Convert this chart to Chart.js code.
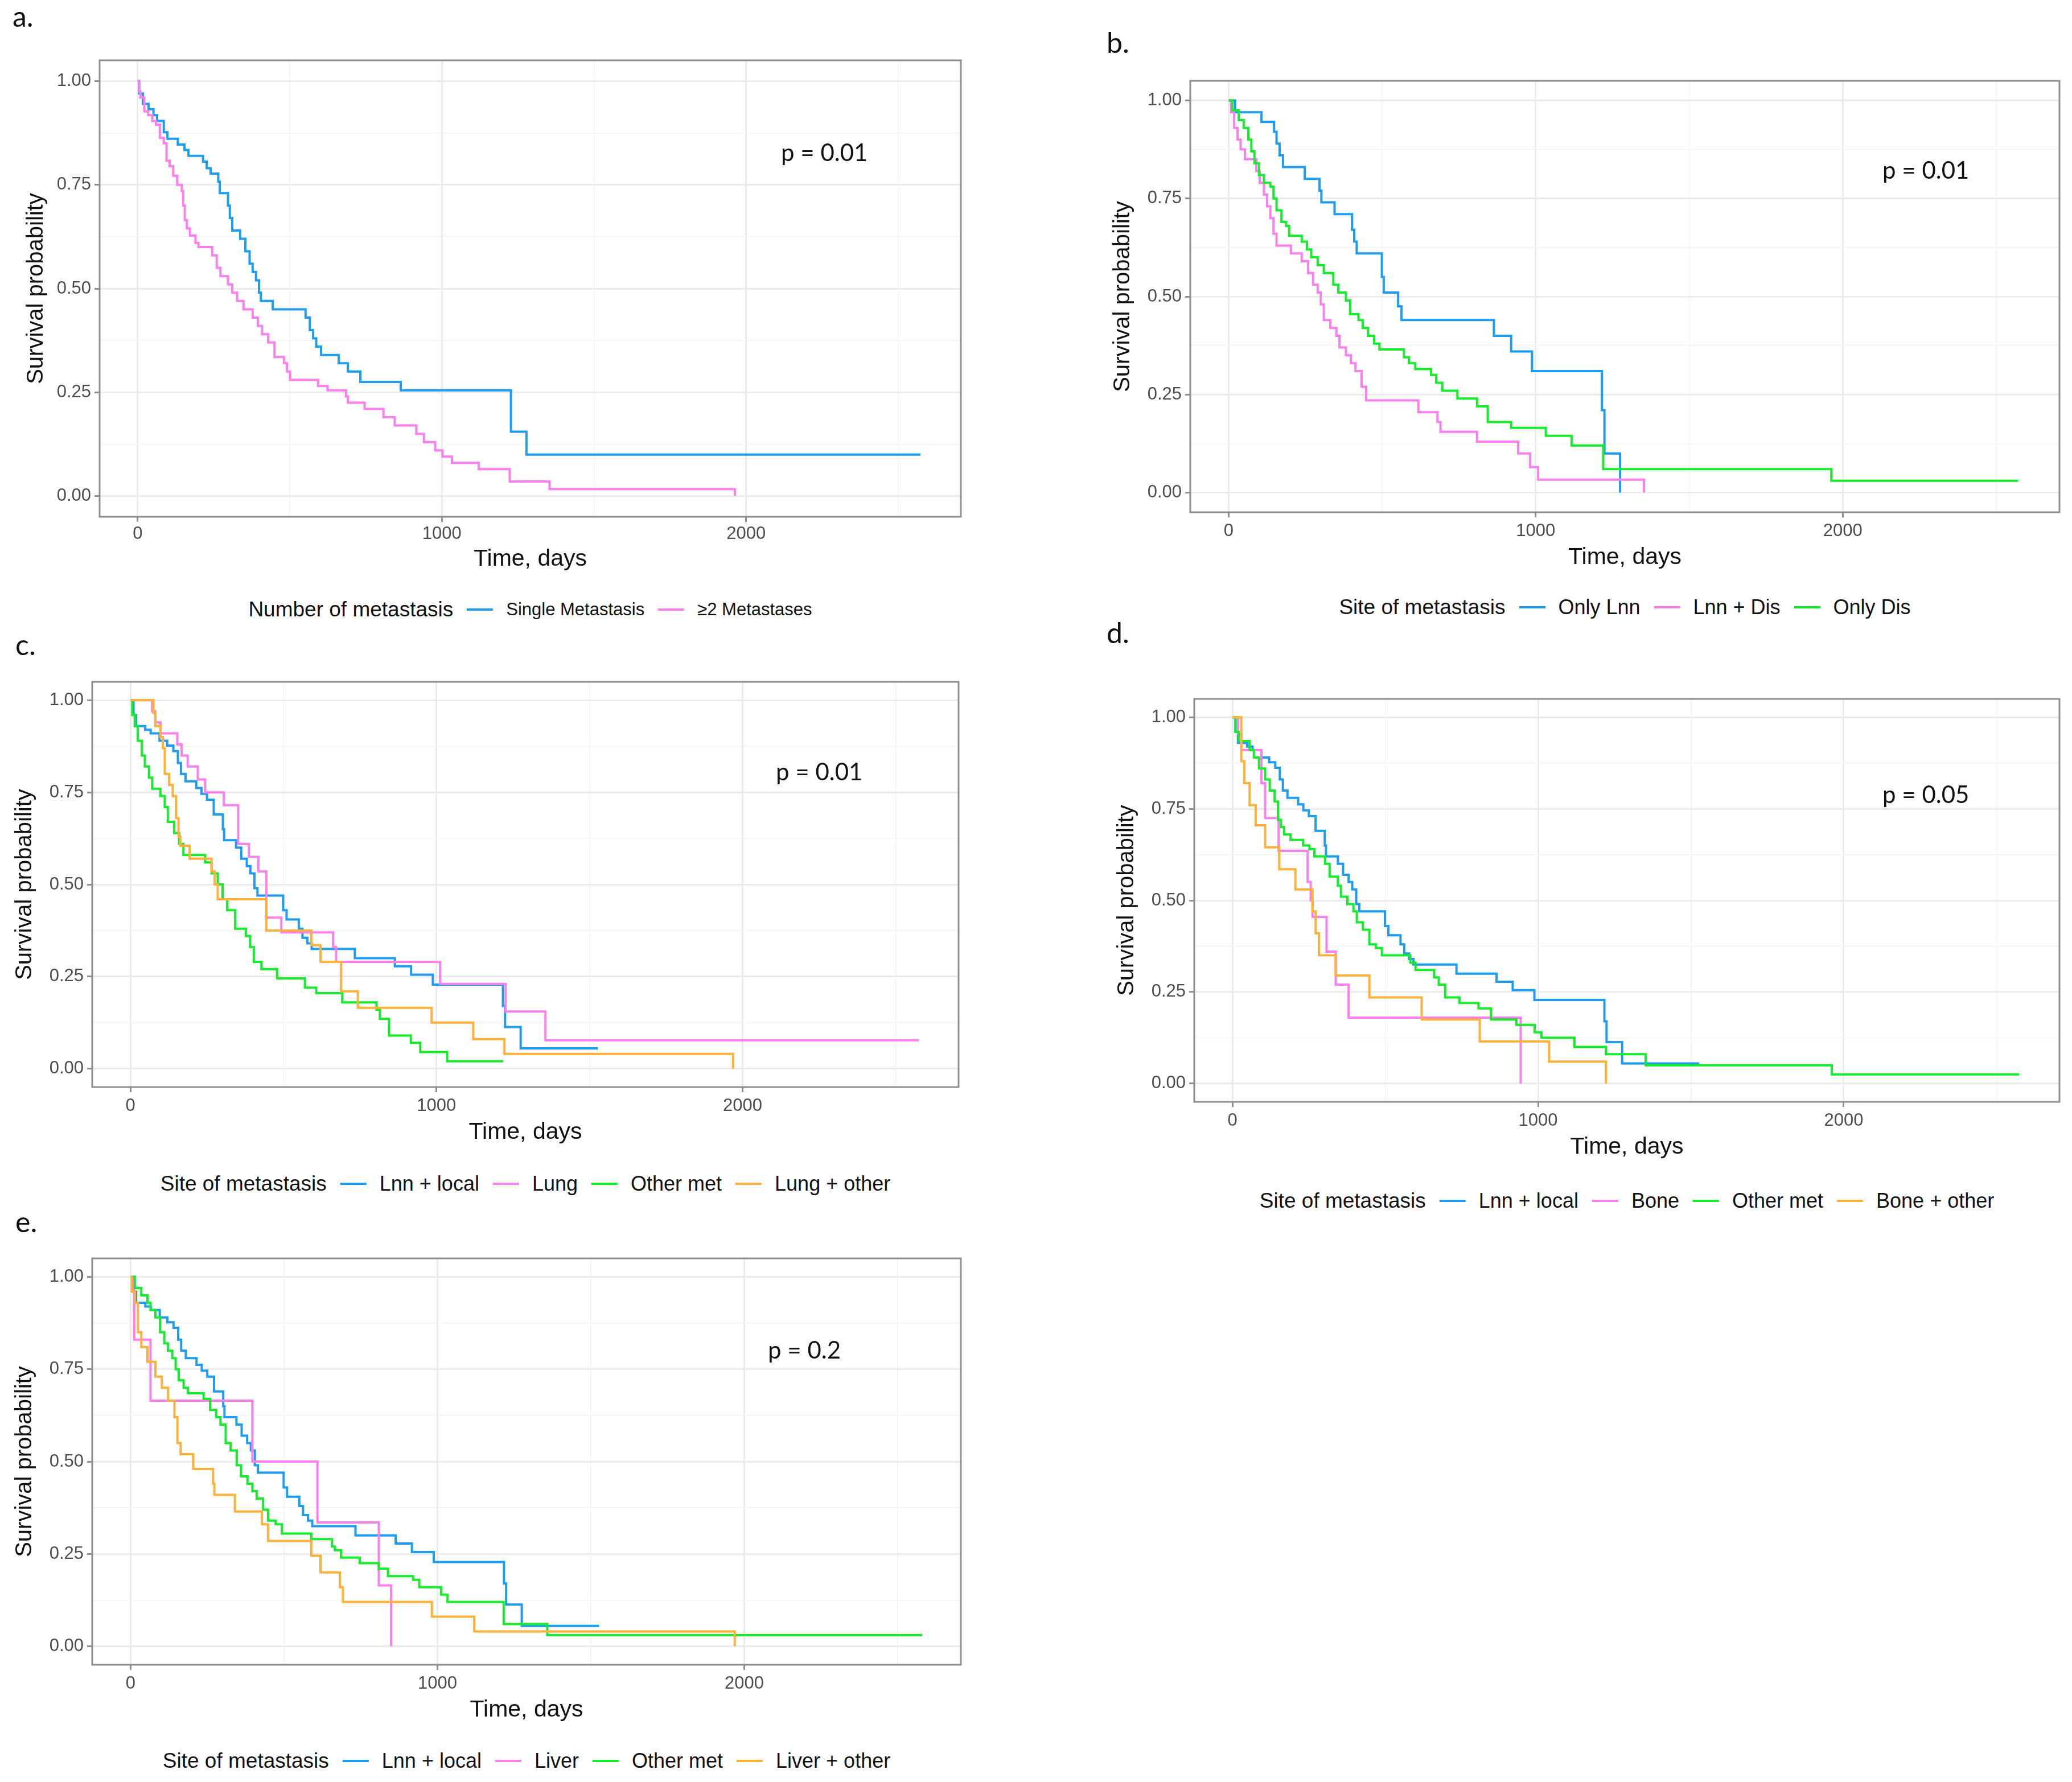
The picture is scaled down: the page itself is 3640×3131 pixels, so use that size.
<!DOCTYPE html>
<html>
<head>
<meta charset="utf-8">
<script src="https://cdn.jsdelivr.net/npm/chart.js@4.4.1/dist/chart.umd.min.js"></script>
<style>
  body { margin: 0; background: #fff; width: 3640px; height: 3131px; position: relative; overflow: hidden; }
  canvas { position: absolute; }
  .tag { position: absolute; font-family: Lato, 'Open Sans', sans-serif; font-size: 50px; line-height: 50px; color: #111; }
  .pval { position: absolute; font-family: Lato, 'Open Sans', sans-serif; font-size: 42px; line-height: 1; color: #111; transform: translateY(-50%); white-space: nowrap; }
  .legend { position: absolute; display: flex; align-items: center; white-space: nowrap; transform: translate(-50%, -50%);
            font-family: 'Liberation Sans', Arial, sans-serif; color: #111; }
  .legend .sw { display: inline-block; width: 46px; height: 4px; margin: 0 23px 0 24px; }
</style>
</head>
<body>
<script>
// axis ticks (major get labels, minor only grid lines)
const xTicks = [0, 500, 1000, 1500, 2000, 2500];
const yTicks = [0, 0.125, 0.25, 0.375, 0.5, 0.625, 0.75, 0.875, 1];
const xLabels = [0, 1000, 2000];
const yLabels = [0, 0.25, 0.5, 0.75, 1];

// Kaplan-Meier steps: [day, survival after the event]
const aSingle = [[0,1],[5,0.97],[17,0.945],[36,0.932],[52,0.918],[64,0.904],[86,0.877],[98,0.861],[132,0.847],[154,0.834],[167,0.82],[215,0.806],[227,0.79],[240,0.777],[265,0.758],[270,0.73],[297,0.70],[303,0.67],[311,0.64],[337,0.62],[354,0.59],[368,0.56],[378,0.54],[389,0.52],[399,0.49],[405,0.47],[444,0.45],[552,0.43],[566,0.40],[577,0.38],[587,0.36],[603,0.34],[661,0.32],[691,0.30],[732,0.275],[865,0.255],[1227,0.155],[1278,0.10],[2573,0.10]];
const aMulti = [[0,1],[5,0.975],[9,0.96],[22,0.927],[35,0.918],[48,0.904],[60,0.895],[73,0.863],[86,0.85],[95,0.808],[105,0.795],[117,0.772],[130,0.75],[145,0.735],[150,0.70],[155,0.665],[162,0.645],[172,0.628],[190,0.61],[200,0.60],[245,0.58],[260,0.55],[272,0.53],[297,0.51],[311,0.49],[327,0.47],[348,0.45],[378,0.43],[395,0.41],[409,0.39],[429,0.37],[450,0.335],[481,0.32],[491,0.30],[501,0.28],[593,0.265],[624,0.255],[685,0.24],[691,0.225],[746,0.21],[808,0.19],[845,0.17],[916,0.15],[941,0.13],[978,0.11],[1002,0.095],[1033,0.08],[1121,0.065],[1223,0.035],[1354,0.017],[1963,0]];

const bOnlyLnn = [[0,1],[21,0.97],[107,0.945],[148,0.92],[156,0.89],[166,0.86],[177,0.83],[248,0.80],[296,0.77],[302,0.74],[345,0.71],[402,0.67],[409,0.64],[417,0.61],[499,0.55],[505,0.51],[552,0.475],[563,0.44],[864,0.40],[920,0.36],[988,0.31],[1216,0.21],[1224,0.10],[1275,0]];
const bLnnDis = [[0,1],[8,0.97],[18,0.93],[29,0.90],[39,0.875],[53,0.85],[90,0.82],[101,0.79],[115,0.76],[125,0.73],[136,0.70],[146,0.66],[156,0.63],[203,0.61],[238,0.59],[259,0.56],[275,0.53],[290,0.51],[300,0.48],[310,0.44],[331,0.42],[351,0.40],[361,0.37],[382,0.35],[398,0.33],[413,0.31],[433,0.27],[448,0.235],[618,0.205],[680,0.18],[690,0.155],[809,0.13],[943,0.10],[982,0.065],[1008,0.033],[1353,0]];
const bOnlyDis = [[0,1],[12,0.975],[33,0.95],[49,0.93],[64,0.90],[74,0.87],[84,0.84],[99,0.81],[115,0.79],[136,0.78],[146,0.75],[156,0.72],[172,0.69],[187,0.68],[197,0.655],[238,0.64],[255,0.62],[269,0.60],[290,0.58],[310,0.56],[341,0.53],[357,0.51],[382,0.49],[396,0.455],[423,0.44],[437,0.42],[454,0.40],[474,0.38],[491,0.365],[571,0.345],[587,0.33],[608,0.315],[659,0.30],[676,0.28],[696,0.26],[745,0.24],[809,0.22],[844,0.18],[920,0.165],[1033,0.145],[1117,0.12],[1220,0.06],[1963,0.03],[2571,0.03]];

const lnnLocal = [[0,1],[10,0.96],[18,0.93],[48,0.92],[66,0.91],[95,0.89],[120,0.877],[140,0.862],[155,0.83],[165,0.80],[180,0.78],[215,0.762],[232,0.746],[250,0.73],[272,0.69],[302,0.65],[306,0.62],[345,0.60],[362,0.57],[380,0.55],[392,0.53],[405,0.49],[415,0.47],[499,0.43],[510,0.405],[550,0.38],[562,0.355],[578,0.34],[592,0.325],[733,0.30],[864,0.278],[917,0.255],[988,0.228],[1217,0.17],[1224,0.113],[1275,0.055],[1527,0.055]];

const cLung = [[0,1],[71,0.97],[81,0.94],[98,0.91],[153,0.88],[167,0.85],[187,0.82],[220,0.785],[244,0.75],[305,0.715],[352,0.61],[387,0.575],[418,0.535],[444,0.41],[493,0.37],[662,0.33],[672,0.29],[1012,0.23],[1226,0.155],[1356,0.077],[2576,0.077]];
const cOther = [[0,1],[6,0.96],[14,0.93],[24,0.89],[37,0.85],[47,0.82],[61,0.79],[71,0.76],[98,0.74],[112,0.71],[122,0.67],[143,0.64],[159,0.61],[173,0.58],[244,0.56],[265,0.53],[285,0.50],[301,0.46],[316,0.43],[342,0.38],[377,0.36],[391,0.33],[403,0.29],[428,0.27],[479,0.245],[570,0.22],[607,0.205],[692,0.18],[804,0.16],[815,0.135],[845,0.09],[916,0.07],[947,0.045],[1035,0.02],[1218,0.02]];
const cLungOther = [[0,1],[75,0.965],[81,0.93],[98,0.90],[106,0.87],[112,0.80],[126,0.77],[138,0.74],[149,0.68],[157,0.63],[163,0.605],[193,0.57],[265,0.535],[275,0.50],[285,0.46],[444,0.375],[591,0.335],[621,0.29],[688,0.21],[743,0.165],[984,0.125],[1120,0.08],[1222,0.04],[1969,0]];

const dBone = [[0,1],[18,0.955],[29,0.91],[95,0.82],[107,0.725],[151,0.635],[246,0.55],[256,0.50],[262,0.455],[308,0.36],[338,0.27],[380,0.18],[943,0]];
const dOther = [[0,1],[10,0.96],[21,0.935],[56,0.91],[70,0.89],[87,0.86],[107,0.83],[122,0.80],[138,0.77],[149,0.72],[159,0.70],[169,0.68],[190,0.665],[231,0.65],[252,0.64],[268,0.62],[303,0.60],[318,0.565],[345,0.54],[355,0.51],[376,0.49],[396,0.47],[407,0.44],[427,0.42],[448,0.38],[469,0.37],[489,0.35],[582,0.33],[599,0.31],[660,0.29],[675,0.27],[696,0.235],[743,0.22],[805,0.205],[846,0.175],[929,0.16],[989,0.14],[1011,0.125],[1119,0.10],[1222,0.08],[1352,0.05],[1961,0.025],[2574,0.025]];
const dBoneOther = [[0,1],[29,0.88],[39,0.82],[56,0.76],[76,0.705],[107,0.645],[153,0.585],[206,0.53],[262,0.47],[272,0.41],[283,0.35],[338,0.295],[448,0.235],[619,0.175],[809,0.115],[1036,0.06],[1222,0]];

const eLiver = [[0,1],[12,0.83],[65,0.665],[397,0.50],[609,0.335],[809,0.165],[849,0]];
const eOther = [[0,1],[14,0.97],[35,0.95],[55,0.93],[65,0.91],[81,0.89],[96,0.85],[110,0.82],[122,0.80],[136,0.78],[147,0.75],[157,0.72],[173,0.70],[187,0.685],[238,0.67],[259,0.64],[279,0.62],[293,0.60],[310,0.55],[326,0.53],[346,0.49],[360,0.46],[381,0.44],[397,0.42],[411,0.40],[432,0.37],[448,0.34],[473,0.33],[493,0.305],[589,0.29],[656,0.27],[666,0.26],[686,0.24],[747,0.225],[809,0.21],[839,0.19],[921,0.18],[941,0.16],[1012,0.14],[1033,0.12],[1216,0.06],[1358,0.03],[2580,0.03]];
const eLiverOther = [[0,1],[4,0.96],[14,0.93],[24,0.85],[35,0.81],[55,0.77],[81,0.73],[102,0.70],[122,0.665],[143,0.62],[153,0.55],[163,0.52],[204,0.48],[269,0.44],[273,0.41],[340,0.365],[428,0.33],[448,0.285],[589,0.245],[619,0.20],[682,0.16],[692,0.12],[982,0.08],[1120,0.04],[1969,0]];

const BLUE = '#1e9cf0', PINK = '#fb80ee', GREEN = '#16ec2c', ORANGE = '#ffb13a';
const FONT = "'Liberation Sans', Arial, sans-serif";

const panels = [
  { tag: 'a.', tagX: 22, tagTop: 3, left: 175, top: 106, right: 1688, bottom: 908, yW: 135, xH: 99, tickPad: 3,
    p: 'p = 0.01', pX: 1372, pY: 267, legendY: 1071, legendTitle: 'Number of metastasis', itemSize: 31,
    series: [['Single Metastasis', aSingle, BLUE], ['\u22652 Metastases', aMulti, PINK]] },
  { tag: 'b.', tagX: 1944, tagTop: 49, left: 2091, top: 142, right: 3618, bottom: 900, yW: 142, xH: 104, tickPad: 6,
    p: 'p = 0.01', pX: 3307, pY: 298, legendY: 1067, legendTitle: 'Site of metastasis', itemSize: 36,
    series: [['Only Lnn', bOnlyLnn, BLUE], ['Lnn + Dis', bLnnDis, PINK], ['Only Dis', bOnlyDis, GREEN]] },
  { tag: 'c.', tagX: 27, tagTop: 1107, left: 162, top: 1198, right: 1684, bottom: 1910, yW: 142, xH: 104, tickPad: 6,
    p: 'p = 0.01', pX: 1363, pY: 1355, legendY: 2080, legendTitle: 'Site of metastasis', itemSize: 36,
    series: [['Lnn + local', lnnLocal, BLUE], ['Lung', cLung, PINK], ['Other met', cOther, GREEN], ['Lung + other', cLungOther, ORANGE]] },
  { tag: 'd.', tagX: 1944, tagTop: 1086, left: 2098, top: 1228, right: 3618, bottom: 1936, yW: 142, xH: 104, tickPad: 6,
    p: 'p = 0.05', pX: 3307, pY: 1395, legendY: 2110, legendTitle: 'Site of metastasis', itemSize: 36,
    series: [['Lnn + local', lnnLocal, BLUE], ['Bone', dBone, PINK], ['Other met', dOther, GREEN], ['Bone + other', dBoneOther, ORANGE]] },
  { tag: 'e.', tagX: 27, tagTop: 2121, left: 162, top: 2211, right: 1688, bottom: 2925, yW: 142, xH: 104, tickPad: 6,
    p: 'p = 0.2', pX: 1349, pY: 2371, legendY: 3094, legendTitle: 'Site of metastasis', itemSize: 36,
    series: [['Lnn + local', lnnLocal, BLUE], ['Liver', eLiver, PINK], ['Other met', eOther, GREEN], ['Liver + other', eLiverOther, ORANGE]] }
];

const panelBorder = {
  id: 'panelBorder',
  afterDatasetsDraw(chart) {
    const { ctx, chartArea: a } = chart;
    ctx.save();
    ctx.strokeStyle = '#8f8f8f';
    ctx.lineWidth = 3;
    ctx.strokeRect(a.left, a.top, a.right - a.left, a.bottom - a.top);
    ctx.restore();
  }
};

function addDiv(cls, text, css) {
  const el = document.createElement('div');
  el.className = cls;
  el.textContent = text;
  Object.assign(el.style, css);
  document.body.appendChild(el);
  return el;
}

function makeLegend(p) {
  const el = document.createElement('div');
  el.className = 'legend';
  el.style.left = ((p.left + p.right) / 2) + 'px';
  el.style.top = p.legendY + 'px';
  const title = document.createElement('span');
  title.textContent = p.legendTitle;
  title.style.fontSize = '37px';
  el.appendChild(title);
  p.series.forEach(([name, , color]) => {
    const sw = document.createElement('span');
    sw.className = 'sw';
    sw.style.background = color;
    const lab = document.createElement('span');
    lab.textContent = name;
    lab.style.fontSize = p.itemSize + 'px';
    el.appendChild(sw);
    el.appendChild(lab);
  });
  document.body.appendChild(el);
}

function makePanel(p) {
  const pad = 4;
  const w = p.right - p.left + p.yW + pad;
  const h = p.bottom - p.top + pad + p.xH;
  const cv = document.createElement('canvas');
  cv.width = w; cv.height = h;
  Object.assign(cv.style, { left: (p.left - p.yW) + 'px', top: (p.top - pad) + 'px', width: w + 'px', height: h + 'px' });
  document.body.appendChild(cv);

  const n = p.series.length;
  new Chart(cv, {
    type: 'line',
    data: {
      datasets: p.series.map(([name, pts, color], i) => ({
        label: name,
        data: pts.map(([x, y]) => ({ x, y })),
        borderColor: color,
        borderWidth: 4,
        pointRadius: 0,
        stepped: true,
        fill: false,
        order: n - i,
        borderJoinStyle: 'miter'
      }))
    },
    options: {
      responsive: false,
      animation: false,
      devicePixelRatio: 1,
      layout: { autoPadding: false, padding: { top: pad, right: pad, left: 0, bottom: 0 } },
      plugins: { legend: { display: false }, tooltip: { enabled: false } },
      scales: {
        x: {
          type: 'linear', min: -125, max: 2706,
          afterBuildTicks: (s) => { s.ticks = xTicks.map((v) => ({ value: v })); },
          afterFit: (s) => { s.height = p.xH; s.paddingLeft = 0; s.paddingRight = 0; },
          border: { display: false },
          grid: {
            color: (c) => xLabels.includes(c.tick.value) ? '#ebebeb' : '#f3f3f3',
            lineWidth: (c) => xLabels.includes(c.tick.value) ? 3 : 1.5,
            tickColor: (c) => xLabels.includes(c.tick.value) ? '#8f8f8f' : 'rgba(0,0,0,0)',
            tickWidth: 3, tickLength: 9
          },
          ticks: {
            autoSkip: false, maxRotation: 0, padding: p.tickPad, color: '#4d4d4d',
            font: { family: FONT, size: 31 },
            callback: (v) => xLabels.includes(v) ? String(v) : ''
          },
          title: { display: true, text: 'Time, days', color: '#111', padding: 0, font: { family: FONT, size: 41 } }
        },
        y: {
          type: 'linear', min: -0.05, max: 1.05,
          afterBuildTicks: (s) => { s.ticks = yTicks.map((v) => ({ value: v })); },
          afterFit: (s) => { s.width = p.yW; s.paddingTop = 0; s.paddingBottom = 0; },
          border: { display: false },
          grid: {
            color: (c) => yLabels.includes(c.tick.value) ? '#ebebeb' : '#f3f3f3',
            lineWidth: (c) => yLabels.includes(c.tick.value) ? 3 : 1.5,
            tickColor: (c) => yLabels.includes(c.tick.value) ? '#8f8f8f' : 'rgba(0,0,0,0)',
            tickWidth: 3, tickLength: 9
          },
          ticks: {
            autoSkip: false, padding: 6, color: '#4d4d4d',
            font: { family: FONT, size: 31 },
            callback: (v) => yLabels.includes(v) ? v.toFixed(2) : ''
          },
          title: { display: true, text: 'Survival probability', color: '#111', padding: 0, font: { family: FONT, size: 40 } }
        }
      }
    },
    plugins: [panelBorder]
  });

  addDiv('tag', p.tag, { left: p.tagX + 'px', top: p.tagTop + 'px' });
  addDiv('pval', p.p, { left: p.pX + 'px', top: p.pY + 'px' });
  makeLegend(p);
}

panels.forEach(makePanel);
</script>
</body>
</html>
